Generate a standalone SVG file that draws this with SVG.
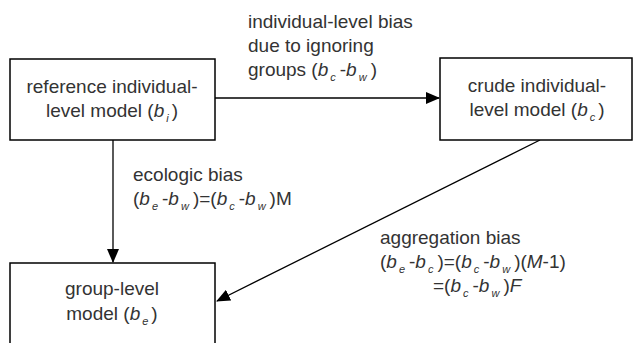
<svg xmlns="http://www.w3.org/2000/svg" width="640" height="343" viewBox="0 0 640 343">
<style>
.box{fill:#fff;stroke:#000;stroke-width:1.5}
text{font-family:"Liberation Sans",Arial,sans-serif;font-size:19px;fill:#333}
.c{text-anchor:middle}
.i{font-style:italic}
.s{font-size:11px;font-style:italic}
.ln{stroke:#000;stroke-width:1.3;fill:none}
</style>
<defs>
<marker id="ah" markerWidth="14" markerHeight="12" refX="13" refY="6" orient="auto" markerUnits="userSpaceOnUse">
<path d="M0,0 L14,6 L0,12 z" fill="#000"/>
</marker>
</defs>
<rect width="640" height="343" fill="#fff"/>
<g id="connectors">
<line class="ln" x1="215" y1="98" x2="439" y2="98" marker-end="url(#ah)"/>
<line class="ln" x1="113" y1="140" x2="113" y2="262" marker-end="url(#ah)"/>
<line class="ln" x1="540" y1="140" x2="217" y2="301" marker-end="url(#ah)"/>
<text x="248" y="28">individual-level bias</text>
<text x="248" y="52">due to ignoring</text>
<text x="248" y="76">groups (<tspan class="i">b</tspan><tspan class="s" dx="2" dy="5">c</tspan><tspan dx="4" dy="-5">-</tspan><tspan class="i">b</tspan><tspan class="s" dx="2" dy="5">w</tspan><tspan dx="4" dy="-5">)</tspan></text>
<text x="133" y="181">ecologic bias</text>
<text x="133" y="205">(<tspan class="i">b</tspan><tspan class="s" dx="2" dy="5">e</tspan><tspan dx="4" dy="-5">-</tspan><tspan class="i">b</tspan><tspan class="s" dx="2" dy="5">w</tspan><tspan dx="4" dy="-5">)=(</tspan><tspan class="i">b</tspan><tspan class="s" dx="2" dy="5">c</tspan><tspan dx="4" dy="-5">-</tspan><tspan class="i">b</tspan><tspan class="s" dx="2" dy="5">w</tspan><tspan dx="4" dy="-5">)M</tspan></text>
<text x="380" y="244">aggregation bias</text>
<text x="380" y="268">(<tspan class="i">b</tspan><tspan class="s" dx="2" dy="5">e</tspan><tspan dx="4" dy="-5">-</tspan><tspan class="i">b</tspan><tspan class="s" dx="2" dy="5">c</tspan><tspan dx="4" dy="-5">)=(</tspan><tspan class="i">b</tspan><tspan class="s" dx="2" dy="5">c</tspan><tspan dx="4" dy="-5">-</tspan><tspan class="i">b</tspan><tspan class="s" dx="2" dy="5">w</tspan><tspan dx="4" dy="-5">)(</tspan><tspan class="i">M</tspan><tspan>-1)</tspan></text>
<text x="433" y="292">=(<tspan class="i">b</tspan><tspan class="s" dx="2" dy="5">c</tspan><tspan dx="4" dy="-5">-</tspan><tspan class="i">b</tspan><tspan class="s" dx="2" dy="5">w</tspan><tspan dx="4" dy="-5">)</tspan><tspan class="i">F</tspan></text>
</g>
<g id="ref">
<rect class="box" x="10" y="59" width="205" height="81"/>
<text class="c" x="112" y="93">reference individual-</text>
<text class="c" x="112" y="117">level model (<tspan class="i">b</tspan><tspan class="s" dx="2" dy="5">i</tspan><tspan dx="3" dy="-5">)</tspan></text>
</g>
<g id="crude">
<rect class="box" x="440" y="58" width="192" height="82"/>
<text class="c" x="537" y="92">crude individual-</text>
<text class="c" x="537" y="116">level model (<tspan class="i">b</tspan><tspan class="s" dx="2" dy="5">c</tspan><tspan dx="3" dy="-5">)</tspan></text>
</g>
<g id="group">
<rect class="box" x="10" y="263" width="205" height="95"/>
<text class="c" x="112" y="295">group-level</text>
<text class="c" x="112" y="320">model (<tspan class="i">b</tspan><tspan class="s" dx="2" dy="5">e</tspan><tspan dx="3" dy="-5">)</tspan></text>
</g>
</svg>
